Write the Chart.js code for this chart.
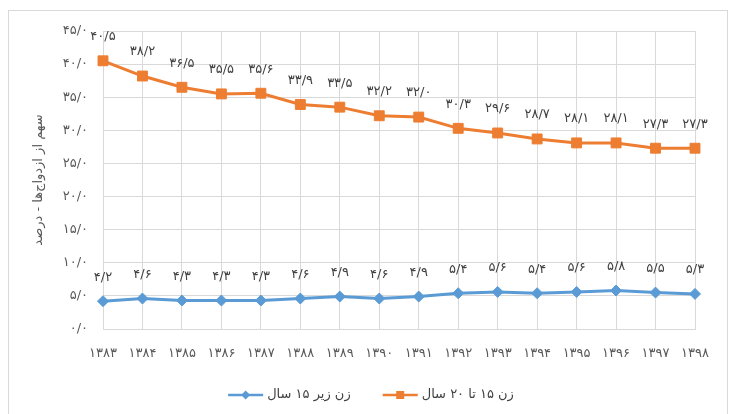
<!DOCTYPE html>
<html><head><meta charset="utf-8">
<script src="https://cdn.jsdelivr.net/npm/chart.js@4/dist/chart.umd.min.js"></script>
<style>html,body{margin:0;padding:0;background:#fff;}</style>
</head><body>
<canvas id="c" width="732" height="414"></canvas>
<script>
// ---- data ----
const years = [1383,1384,1385,1386,1387,1388,1389,1390,1391,1392,1393,1394,1395,1396,1397,1398];
const under15 = [4.2,4.6,4.3,4.3,4.3,4.6,4.9,4.6,4.9,5.4,5.6,5.4,5.6,5.8,5.5,5.3];
const age15to20 = [40.5,38.2,36.5,35.5,35.6,33.9,33.5,32.2,32.0,30.3,29.6,28.7,28.1,28.1,27.3,27.3];
const seriesNames = ['زن زیر ۱۵ سال', 'زن ۱۵ تا ۲۰ سال'];
const yAxisTitle = 'سهم از ازدواج‌ها - درصد';
const yMin = 0, yMax = 45, yStep = 5;

const FONT = "'DejaVu Sans', sans-serif";
function fa(s){ return String(s).replace(/[0-9]/g, d => '۰۱۲۳۴۵۶۷۸۹'[d]).replace('.', '/'); }

const frame = {
  id: 'frame',
  beforeDraw(chart){
    const ctx = chart.ctx;
    ctx.save();
    ctx.fillStyle = '#fff';
    ctx.fillRect(0,0,chart.width,chart.height);
    ctx.strokeStyle = '#d9d9d9';
    ctx.lineWidth = 1;
    ctx.strokeRect(8.5, 10.5, 719, 410);
    ctx.restore();
  }
};

const dataLabels = {
  id: 'dataLabels',
  afterDatasetsDraw(chart){
    const ctx = chart.ctx;
    ctx.save();
    ctx.font = '13px ' + FONT;
    ctx.fillStyle = '#404040';
    ctx.textAlign = 'center';
    ctx.textBaseline = 'middle';
    chart.data.datasets.forEach((ds, i) => {
      const meta = chart.getDatasetMeta(i);
      meta.data.forEach((pt, j) => {
        ctx.fillText(fa(ds.data[j].toFixed(1)), pt.x, pt.y - 24);
      });
    });
    ctx.restore();
  }
};

const legendPlugin = {
  id: 'customLegend',
  afterDraw(chart){
    const ctx = chart.ctx;
    ctx.save();
    ctx.font = '13px ' + FONT;
    const lineW = 35, gapText = 4, gapItem = 32;
    const items = chart.data.datasets.map(ds => ({
      text: ds.label, color: ds.borderColor, style: ds.pointStyle,
      w: ctx.measureText(ds.label).width
    }));
    const total = items.reduce((a, it) => a + lineW + gapText + it.w, 0) + gapItem * (items.length - 1);
    let x = 371 - total / 2;
    const y = 395;
    items.forEach(it => {
      const cx = x + lineW / 2;
      ctx.strokeStyle = it.color;
      ctx.lineWidth = 2.5;
      ctx.beginPath(); ctx.moveTo(x, y); ctx.lineTo(x + lineW, y); ctx.stroke();
      ctx.fillStyle = it.color;
      ctx.beginPath();
      if (it.style === 'rect') { ctx.rect(cx - 4, y - 4, 8, 8); }
      else { const r = 4.5; ctx.moveTo(cx, y-r); ctx.lineTo(cx+r, y); ctx.lineTo(cx, y+r); ctx.lineTo(cx-r, y); ctx.closePath(); }
      ctx.fill();
      ctx.fillStyle = '#404040';
      ctx.textAlign = 'left';
      ctx.textBaseline = 'middle';
      ctx.fillText(it.text, x + lineW + gapText, y);
      x += lineW + gapText + it.w + gapItem;
    });
    ctx.restore();
  }
};

new Chart(document.getElementById('c'), {
  type: 'line',
  data: {
    labels: years.map(fa),
    datasets: [
      { label: seriesNames[0], data: under15, borderColor: '#5B9BD5', backgroundColor: '#5B9BD5',
        borderWidth: 3, pointStyle: 'rectRot', pointRadius: 5.5, pointBorderWidth: 1, tension: 0 },
      { label: seriesNames[1], data: age15to20, borderColor: '#ED7D31', backgroundColor: '#ED7D31',
        borderWidth: 3, pointStyle: 'rect', pointRadius: 7, pointBorderWidth: 1, tension: 0 }
    ]
  },
  options: {
    responsive: false,
    animation: false,
    devicePixelRatio: 1,
    layout: { padding: { left: 0, right: 37, top: 31, bottom: 0 } },
    plugins: { legend: { display: false }, tooltip: { enabled: false } },
    scales: {
      x: {
        grid: { color: '#d9d9d9', drawTicks: false },
        border: { color: '#d9d9d9' },
        ticks: { font: { family: FONT, size: 13 }, color: '#595959', padding: 17, autoSkip: false, maxRotation: 0 },
        afterFit(scale){ scale.height = 85; }
      },
      y: {
        min: yMin, max: yMax,
        grid: { color: '#d9d9d9', drawTicks: false },
        border: { display: false },
        ticks: { stepSize: yStep, font: { family: FONT, size: 13 }, color: '#595959', padding: 15,
          callback: v => fa(v.toFixed(1)) },
        title: { display: true, text: yAxisTitle, font: { family: FONT, size: 13 }, color: '#595959', padding: { top: 31, bottom: 0 } },
        afterFit(scale){ scale.width = 103; }
      }
    }
  },
  plugins: [frame, dataLabels, legendPlugin]
});
</script>
</body></html>
